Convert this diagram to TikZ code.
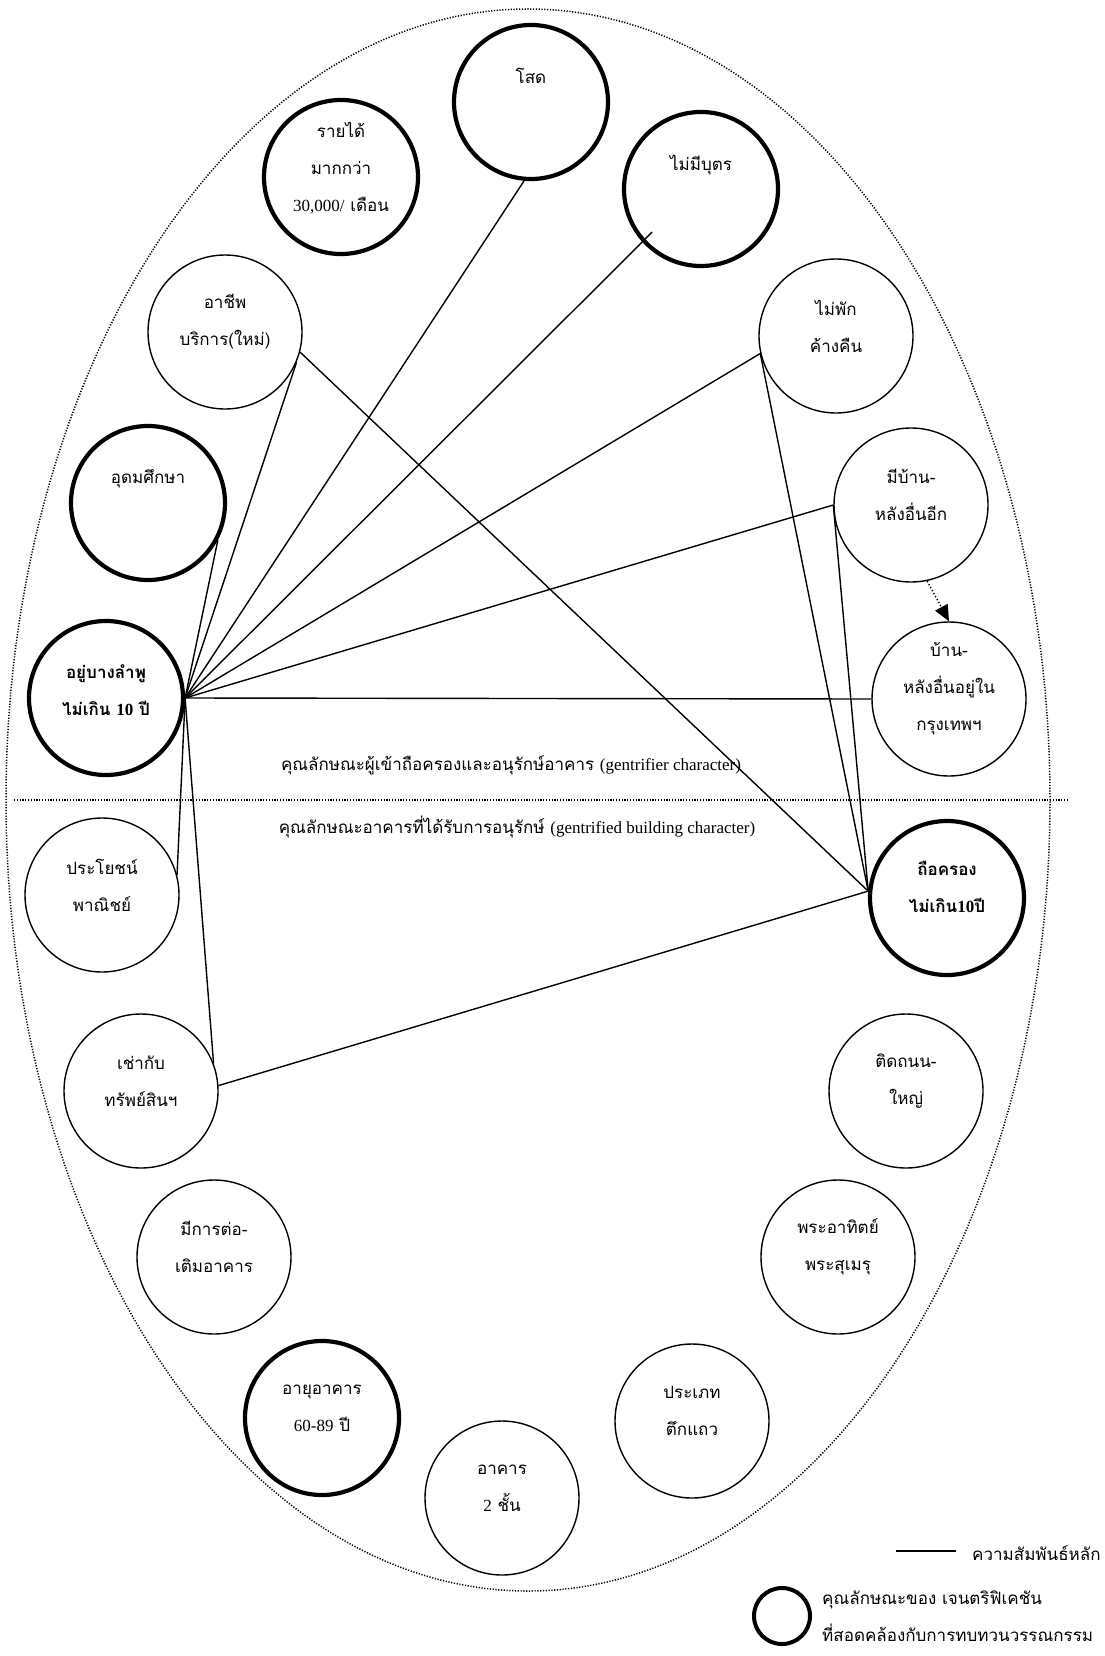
\documentclass[tikz,border=0pt]{standalone}
\usepackage{fontspec}
\setmainfont[Script=Thai]{Loma}
\newfontfamily\lat{Liberation Serif}
\usetikzlibrary{arrows.meta,calc}
\begin{document}
\begin{tikzpicture}[x=1pt,y=-1pt,
  attr/.style={circle,draw,line width=1.4pt,minimum size=154pt,inner sep=0pt},
  key/.style={attr,line width=4.2pt},
  lbl/.style={align=center,font=\fontsize{17}{37}\selectfont,inner sep=0pt},
  boldlbl/.style={lbl,font=\fontsize{17}{37}\selectfont\bfseries},
  link/.style={line width=1.4pt},
  bound/.style={line width=1.5pt,dash pattern=on 1.2pt off 1.6pt},
]
\fill[white] (0,0) rectangle (1104,1656);
\useasboundingbox (0,0) rectangle (1104,1656);

% outer boundary and the dividing line
\draw[bound] (528,800) ellipse [x radius=522pt, y radius=791pt];
\coordinate (divL) at (14,800);
\coordinate (divR) at (1068,800);
\draw[bound] (divL) -- (divR);
\node[lbl] (upperT) at (511,765) {คุณลักษณะผู้เข้าถือครองและอนุรักษ์อาคาร {\lat (gentrifier character)}};
\node[lbl] (lowerT) at (517,827) {คุณลักษณะอาคารที่ได้รับการอนุรักษ์ {\lat (gentrified building character)}};

% attribute circles
\node[key]  (sod)    at (531,102)  {};
\node[key]  (income) at (341,177)  {};
\node[key]  (nobut)  at (701,189)  {};
\node[attr] (achip)  at (225,332)  {};
\node[attr] (maipak) at (836,336)  {};
\node[key]  (udom)   at (148,503)  {};
\node[attr] (mibaan) at (911,505)  {};
\node[key]  (ayu)    at (106,698)  {};
\node[attr] (baan)   at (949,699)  {};
\node[attr] (prayot) at (102,895)  {};
\node[key]  (thue)   at (947,898)  {};
\node[attr] (chao)   at (141,1091) {};
\node[attr] (tid)    at (906,1091) {};
\node[attr] (toterm) at (214,1257) {};
\node[attr] (phra)   at (838,1257) {};
\node[key]  (age)    at (322,1418) {};
\node[attr] (type)   at (692,1421) {};
\node[attr] (floor)  at (502,1498) {};

% circle texts
\node[lbl] (sodT)    at ($(sod)+(0,-26)$)    {โสด};
\node[lbl] (incomeT) at ($(income)+(0,-9)$)  {รายได้\\มากกว่า\\{\lat 30,000/} เดือน};
\node[lbl] (nobutT)  at ($(nobut)+(0,-24)$)  {ไม่มีบุตร};
\node[lbl] (achipT)  at ($(achip)+(0,-10)$)  {อาชีพ\\บริการ(ใหม่)};
\node[lbl] (maipakT) at ($(maipak)+(0,-10)$) {ไม่พัก\\ค้างคืน};
\node[lbl] (udomT)   at ($(udom)+(0,-24)$)   {อุดมศึกษา};
\node[lbl] (mibaanT) at ($(mibaan)+(0,-10)$) {มีบ้าน-\\หลังอื่นอีก};
\node[boldlbl] (ayuT) at ($(ayu)+(0,-8)$)    {อยู่บางลำพู\\ไม่เกิน {\lat\bfseries 10} ปี};
\node[lbl] (baanT)   at ($(baan)+(0,-10)$)   {บ้าน-\\หลังอื่นอยู่ใน\\กรุงเทพฯ};
\node[lbl] (prayotT) at ($(prayot)+(0,-10)$) {ประโยชน์\\พาณิชย์};
\node[boldlbl] (thueT) at ($(thue)+(0,-11)$) {ถือครอง\\ไม่เกิน{\lat\bfseries 10}ปี};
\node[lbl] (chaoT)   at ($(chao)+(0,-10)$)   {เช่ากับ\\ทรัพย์สินฯ};
\node[lbl] (tidT)    at ($(tid)+(0,-10)$)    {ติดถนน-\\ใหญ่};
\node[lbl] (totermT) at ($(toterm)+(0,-10)$) {มีการต่อ-\\เติมอาคาร};
\node[lbl] (phraT)   at ($(phra)+(0,-10)$)   {พระอาทิตย์\\พระสุเมรุ};
\node[lbl] (ageT)    at ($(age)+(0,-10)$)    {อายุอาคาร\\{\lat 60-89} ปี};
\node[lbl] (typeT)   at ($(type)+(0,-10)$)   {ประเภท\\ตึกแถว};
\node[lbl] (floorT)  at ($(floor)+(0,-10)$)  {อาคาร\\{\lat 2} ชั้น};

% main relationships from the Bang Lamphu residence circle
\draw[link] (ayu.east) -- (udom.-28);
\draw[link] (ayu.east) -- (achip.-23);
\draw[link] (ayu.east) -- (sod.-95);
\draw[link] (ayu.east) -- ($(nobut.222)!-14pt!(ayu.east)$);
\draw[link] (ayu.east) -- (maipak.193);
\draw[link] (ayu.east) -- (mibaan.180);
\draw[link] (ayu.east) -- (baan.180);
\draw[link] (ayu.east) -- (prayot.15);
\draw[link] (ayu.east) -- (chao.21);

% main relationships into the tenure circle
\draw[link] (achip.-15)  -- (thue.175);
\draw[link] (maipak.193) -- (thue.175);
\draw[link] (mibaan.180) -- (thue.175);
\draw[link] (chao.4)     -- (thue.175);

% second home leads to a second home in Bangkok
\draw[link,dotted,-{Triangle[length=16pt,width=14pt]}] (mibaan.-78) -- (baan.north);

% legend
\coordinate (lgA) at (896,1551);
\coordinate (lgB) at (956,1551);
\draw[link] (lgA) -- (lgB);
\node[lbl,anchor=west] (lgLineT) at (972,1553) {ความสัมพันธ์หลัก};
\node[key,minimum size=56pt,line width=4pt] (lgCirc) at (782,1616) {};
\node[lbl,anchor=west,align=left] (lgCircT) at (822,1616) {คุณลักษณะของ เจนตริฟิเคชัน\\ที่สอดคล้องกับการทบทวนวรรณกรรม};
\end{tikzpicture}
\end{document}
